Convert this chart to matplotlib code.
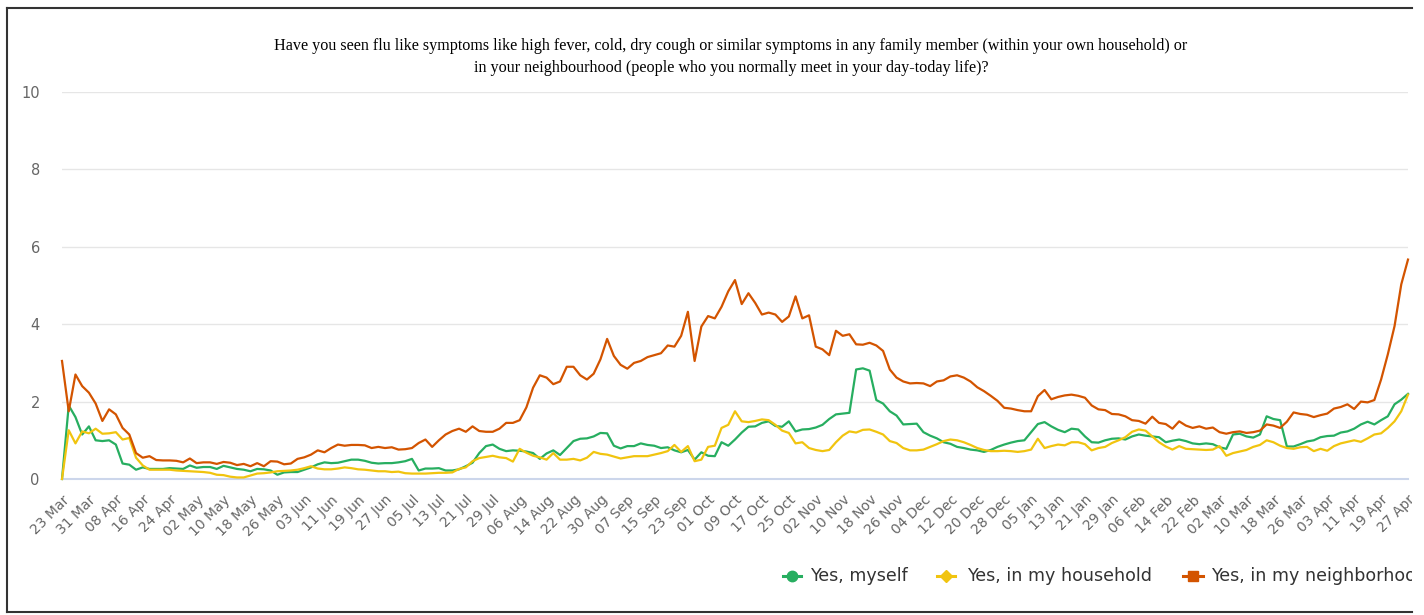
import numpy as np
import pandas as pd
import matplotlib
matplotlib.use("Agg")
import matplotlib.pyplot as plt
from matplotlib.lines import Line2D
from matplotlib.patches import Rectangle

# readings every second day, 23 Mar 2020 .. 27 Apr 2021
dates = pd.date_range("2020-03-23", "2021-04-27", freq="2D")

myself = [
    0.0, 1.9, 1.6, 1.15, 1.36, 1.0, 0.98, 1.0, 0.89, 0.4,
    0.37, 0.24, 0.3, 0.26, 0.26, 0.26, 0.28, 0.27, 0.26, 0.35,
    0.29, 0.31, 0.31, 0.26, 0.34, 0.3, 0.26, 0.24, 0.2, 0.26,
    0.25, 0.22, 0.11, 0.17, 0.18, 0.18, 0.24, 0.3, 0.38, 0.43,
    0.41, 0.42, 0.46, 0.5, 0.5, 0.47, 0.42, 0.4, 0.41, 0.41,
    0.43, 0.46, 0.52, 0.22, 0.27, 0.27, 0.28, 0.22, 0.22, 0.25,
    0.33, 0.42, 0.67, 0.85, 0.89, 0.78, 0.72, 0.74, 0.73, 0.71,
    0.67, 0.52, 0.66, 0.74, 0.62, 0.8, 0.98, 1.04, 1.05, 1.1,
    1.19, 1.18, 0.86, 0.79, 0.85, 0.85, 0.92, 0.88, 0.86, 0.8,
    0.82, 0.74, 0.69, 0.75, 0.5, 0.69, 0.6, 0.59, 0.95, 0.86,
    1.02, 1.2, 1.35, 1.36, 1.45, 1.49, 1.37, 1.35, 1.49, 1.23,
    1.28, 1.29, 1.33, 1.4, 1.55, 1.67, 1.69, 1.71, 2.83, 2.86,
    2.8, 2.04, 1.95, 1.75, 1.64, 1.41, 1.42, 1.43, 1.21, 1.12,
    1.05, 0.95, 0.91, 0.83, 0.8, 0.76, 0.74, 0.7, 0.75, 0.83,
    0.89, 0.94, 0.98, 1.0, 1.21, 1.42, 1.47, 1.36, 1.27, 1.21,
    1.3, 1.28, 1.1, 0.95, 0.94, 1.0, 1.04, 1.05, 1.02, 1.1,
    1.15, 1.12, 1.1, 1.08, 0.95, 0.99, 1.02, 0.98, 0.92, 0.9,
    0.92, 0.9, 0.82, 0.78, 1.15, 1.17, 1.1, 1.07, 1.15, 1.62,
    1.55, 1.52, 0.84, 0.84, 0.9, 0.97, 1.0, 1.08, 1.11, 1.12,
    1.2, 1.23, 1.3, 1.41, 1.48, 1.41, 1.52, 1.62, 1.93, 2.05,
    2.2,
]

household = [
    0.0, 1.26, 0.92, 1.23, 1.18, 1.3, 1.17, 1.18, 1.21, 1.02,
    1.06, 0.55, 0.35, 0.24, 0.24, 0.24, 0.24, 0.22, 0.21, 0.2,
    0.19, 0.18, 0.16, 0.11, 0.1, 0.06, 0.04, 0.04, 0.09, 0.14,
    0.15, 0.17, 0.2, 0.21, 0.22, 0.24, 0.28, 0.33, 0.27, 0.25,
    0.25, 0.27, 0.3, 0.28, 0.25, 0.24, 0.22, 0.2, 0.2, 0.18,
    0.19, 0.15, 0.14, 0.14, 0.14, 0.15, 0.16, 0.16, 0.17, 0.26,
    0.3, 0.46, 0.54, 0.57, 0.6, 0.56, 0.54, 0.45, 0.78, 0.68,
    0.6, 0.56, 0.5, 0.67, 0.5, 0.5, 0.52, 0.48, 0.55, 0.7,
    0.65, 0.63, 0.58, 0.53, 0.56, 0.59, 0.59, 0.59, 0.63, 0.67,
    0.72, 0.88, 0.7, 0.85, 0.46, 0.5, 0.83, 0.86, 1.32, 1.4,
    1.75, 1.49, 1.47, 1.5, 1.54, 1.52, 1.4, 1.25, 1.19, 0.92,
    0.95, 0.8, 0.75, 0.72, 0.75, 0.95, 1.12, 1.23, 1.2, 1.27,
    1.28, 1.22, 1.15, 0.98, 0.93, 0.8, 0.74, 0.74, 0.76, 0.83,
    0.9, 0.98, 1.02, 1.0, 0.95, 0.88, 0.8, 0.75, 0.72, 0.72,
    0.73, 0.72, 0.7, 0.72, 0.76, 1.04, 0.8, 0.85, 0.89, 0.87,
    0.95, 0.95, 0.9, 0.74, 0.8, 0.83, 0.93, 1.0, 1.08, 1.22,
    1.28, 1.25, 1.1, 0.95, 0.84, 0.76, 0.85, 0.78, 0.77, 0.76,
    0.75, 0.76, 0.85, 0.6, 0.67, 0.71, 0.75, 0.83, 0.88, 1.0,
    0.95, 0.86, 0.8, 0.78, 0.82, 0.83, 0.72, 0.78, 0.73, 0.85,
    0.92, 0.96, 1.0, 0.96, 1.05, 1.15, 1.18, 1.32, 1.49, 1.75,
    2.18,
]

neighborhood = [
    3.05, 1.75, 2.7, 2.4, 2.23, 1.95, 1.5, 1.8, 1.67, 1.32,
    1.15, 0.67, 0.55, 0.59, 0.49, 0.48, 0.48, 0.47, 0.43, 0.53,
    0.41, 0.43, 0.43, 0.39, 0.44, 0.42, 0.36, 0.39, 0.33, 0.41,
    0.33, 0.46, 0.45, 0.38, 0.40, 0.52, 0.56, 0.63, 0.74, 0.69,
    0.8, 0.89, 0.86, 0.88, 0.88, 0.87, 0.8, 0.83, 0.8, 0.82,
    0.76, 0.77, 0.80, 0.93, 1.02, 0.83, 1.0, 1.15, 1.24, 1.3,
    1.22, 1.36, 1.24, 1.22, 1.22, 1.3, 1.45, 1.45, 1.52, 1.85,
    2.36, 2.68, 2.62, 2.45, 2.52, 2.9, 2.9, 2.68, 2.57, 2.72,
    3.09, 3.62, 3.18, 2.95, 2.85, 3.0, 3.05, 3.15, 3.2, 3.25,
    3.45, 3.42, 3.7, 4.32, 3.05, 3.94, 4.21, 4.15, 4.45, 4.85,
    5.14, 4.52, 4.8, 4.55, 4.25, 4.3, 4.25, 4.06, 4.2, 4.72,
    4.15, 4.23, 3.42, 3.35, 3.2, 3.83, 3.7, 3.74, 3.48, 3.47,
    3.52, 3.45, 3.31, 2.83, 2.62, 2.52, 2.47, 2.48, 2.47, 2.4,
    2.52, 2.55, 2.65, 2.68, 2.62, 2.52, 2.37, 2.27, 2.15, 2.02,
    1.84, 1.82, 1.78, 1.75, 1.75, 2.14, 2.3, 2.06, 2.12, 2.16,
    2.18, 2.15, 2.1, 1.9, 1.8, 1.78, 1.68, 1.67, 1.62, 1.52,
    1.5, 1.43, 1.61, 1.45, 1.42, 1.3, 1.49, 1.38, 1.32, 1.36,
    1.3, 1.33, 1.21, 1.17, 1.21, 1.23, 1.19, 1.21, 1.25, 1.41,
    1.38, 1.32, 1.48, 1.72, 1.68, 1.66, 1.6, 1.65, 1.69, 1.82,
    1.86, 1.93, 1.81, 2.0, 1.98, 2.04, 2.57, 3.22, 3.95, 5.03,
    5.67,
]

series = [
    ("Yes, myself", myself, "#27ae60", "o"),
    ("Yes, in my household", household, "#f1c40f", "D"),
    ("Yes, in my neighborhood", neighborhood, "#d35400", "s"),
]

W, H = 1424, 615
fig = plt.figure(figsize=(W / 100, H / 100), dpi=100)
ax = fig.add_axes([62 / W, 1 - 479 / H, (1408 - 62) / W, (479 - 92) / H])

for name, vals, color, mk in series:
    ax.plot(dates, vals, color=color, lw=1.6, clip_on=False, zorder=3)

ax.set_ylim(0, 10)
ax.set_xlim(dates[0], dates[-1])
ax.set_yticks(range(0, 11, 2))
ax.grid(axis="y", color="#e6e6e6", lw=1)
ax.set_axisbelow(True)
for s in ["top", "right", "left"]:
    ax.spines[s].set_visible(False)
ax.spines["bottom"].set_color("#ccd6eb")
ax.spines["bottom"].set_linewidth(1.5)

ticks = pd.date_range(dates[0], dates[-1], freq="8D")
ax.set_xticks(ticks)
ax.set_xticklabels([t.strftime("%d %b") for t in ticks], rotation=45,
                   ha="right", rotation_mode="anchor")
ax.tick_params(axis="x", length=0, pad=10, labelsize=10, labelcolor="#666666")
ax.tick_params(axis="y", length=0, pad=16, labelsize=10.5, labelcolor="#666666")

fig.text(731 / W, 1 - 57 / H,
         "Have you seen flu like symptoms like high fever, cold, dry cough or similar symptoms in any family member (within your own household) or\n"
         "in your neighbourhood (people who you normally meet in your day-today life)?",
         ha="center", va="center", family="Liberation Serif", fontsize=11.6,
         linespacing=1.5, color="#000000")

# legend drawn item by item, as in the original (cut off at the right edge)
leg_y = 1 - 576 / H
leg_marker_x = [(783, 801), (937, 955), (1183, 1203)]
leg_text_x = [810, 967, 1211]
for (name, _, color, mk), (x0, x1), tx in zip(series, leg_marker_x, leg_text_x):
    fig.lines.append(Line2D([x0 / W, x1 / W], [leg_y, leg_y], transform=fig.transFigure,
                            color=color, lw=2.2))
    fig.lines.append(Line2D([(x0 + x1) / 2 / W], [leg_y], transform=fig.transFigure,
                            color=color, marker=mk, markersize=7.5 if mk != "D" else 6,
                            linestyle="none"))
    fig.text(tx / W, leg_y, name, ha="left", va="center", fontsize=12.6,
             color="#333333")

# outer frame of the screenshot (right side cut off)
fig.patches.append(Rectangle((1412 / W, 0), 12 / W, 1, transform=fig.transFigure,
                             facecolor="white", edgecolor="none", zorder=10))
fig.lines.append(Line2D([7 / W, 7 / W], [1 - 612 / H, 1 - 8 / H], transform=fig.transFigure,
                        color="#333333", lw=1.5, zorder=11))
fig.lines.append(Line2D([7 / W, 1412 / W], [1 - 8 / H, 1 - 8 / H], transform=fig.transFigure,
                        color="#333333", lw=1.5, zorder=11))
fig.lines.append(Line2D([7 / W, 1412 / W], [1 - 612 / H, 1 - 612 / H], transform=fig.transFigure,
                        color="#333333", lw=1.5, zorder=11))

fig.savefig("out.png", dpi=100, facecolor="white")
